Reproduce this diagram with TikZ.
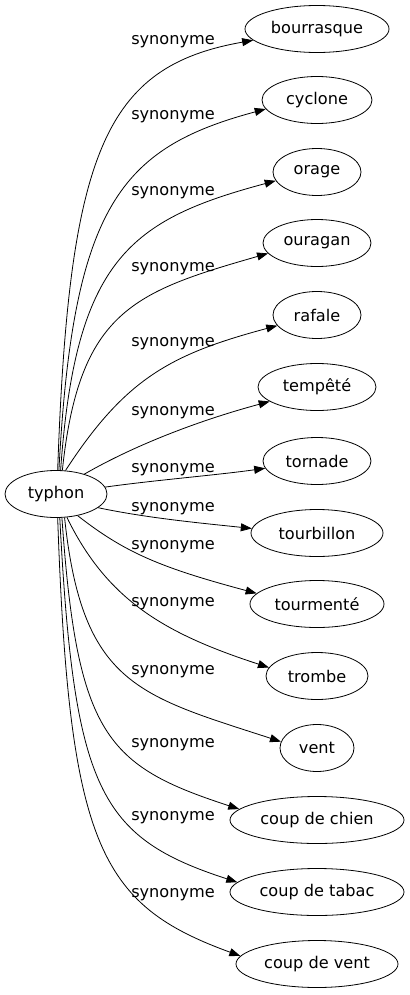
\documentclass[tikz,border=0pt]{standalone}
\usepackage{fontspec}
\setmainfont{DejaVu Sans}
\usetikzlibrary{arrows.meta,shapes.geometric}

\tikzset{
  word/.style={draw, ellipse, line width=0.8bp, minimum height=47bp, inner sep=0pt,
    font=\fontsize{16.2}{19}\selectfont},
  syn/.style={line width=0.8bp, -{Triangle[length=11bp,width=8bp]}},
  synlabel/.style={anchor=base, inner sep=0pt, font=\fontsize{16.2}{19}\selectfont}
}

\begin{document}
\begin{tikzpicture}[x=1bp, y=1bp]
\useasboundingbox (0,0) rectangle (409,-995);
\node[word, minimum width=102bp] (typhon) at (56,-494) {typhon};
\foreach \n/\t/\y/\w in {bourrasque/bourrasque/29/144, cyclone/cyclone/100/110,
  orage/orage/172/88, ouragan/ouragan/243/108, rafale/rafale/315/88,
  tempete/tempêté/387/118, tornade/tornade/461/108, tourbillon/tourbillon/533/132,
  tourmente/tourmenté/604/134, trombe/trombe/676/102, vent/vent/748/74,
  chien/coup de chien/820/174, tabac/coup de tabac/892/174, coupvent/coup de vent/964/162} {
  \node[word, minimum width=\w bp] (\n) at (317,-\y) {\t};
}
% edges: start anchor / out angle / out dist / end anchor / in angle / in dist
\foreach \n/\a/\o/\p/\e/\i/\q in {bourrasque/86/88/320/190/190/150,
  cyclone/83/87/265/190/195/150, orage/79/86/212/192/195/150,
  ouragan/75/84/160/192/196/140, rafale/68/57/110/195/195/110,
  tempete/35/30/60/197/195/70, tornade/8/8/50/188/188/50,
  tourbillon/342/-12/50/176/174/50, tourmente/315/-38/60/170/165/100,
  trombe/295/-64/92/170/162/110, vent/290/-84/168/170/162/150,
  chien/284/-86/218/172/162/140, tabac/279/-87/273/173/162/145,
  coupvent/274/-88/328/174/160/150} {
  \draw[syn] (typhon.\a) .. controls +(\o:\p) and +(\i:\q) .. (\n.\e);
}
\foreach \y [count=\k] in {44,119,195,271,346,415,472,511,549,606,674,747,820,897} {
  \node[synlabel] (lab\k) at (173,-\y) {synonyme};
}
\end{tikzpicture}
\end{document}
